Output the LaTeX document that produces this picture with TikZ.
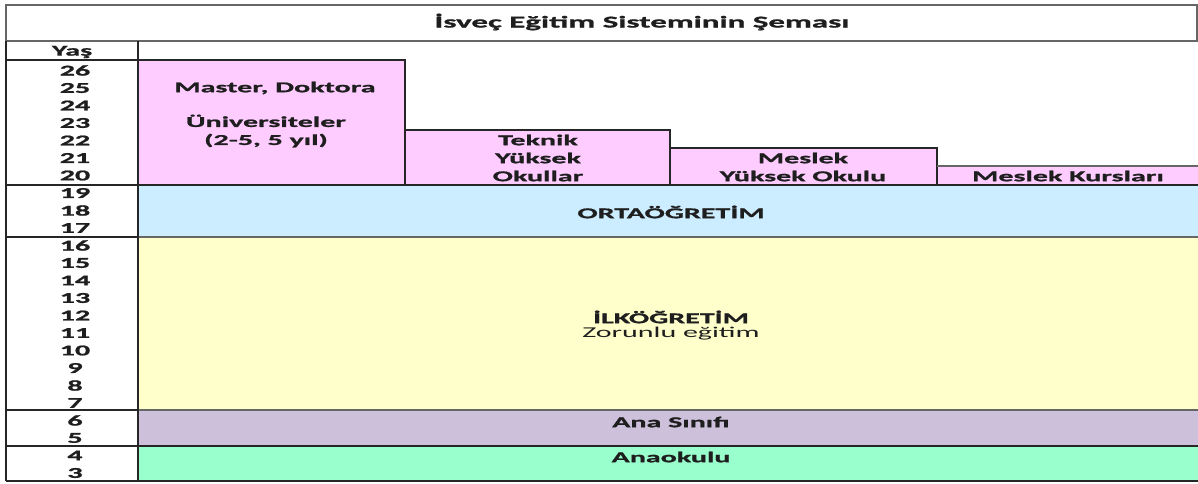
\documentclass[tikz,border=0pt]{standalone}
\usepackage{fontspec}
\setmainfont[FakeStretch=2, BoldFeatures={FakeBold=1.2}]{Carlito}
\usetikzlibrary{positioning}
\definecolor{unipink}{RGB}{255,204,255}
\definecolor{ortablue}{RGB}{204,236,255}
\definecolor{ilkyellow}{RGB}{255,255,204}
\definecolor{anapurple}{RGB}{204,192,218}
\definecolor{kindergreen}{RGB}{153,255,204}
\definecolor{inkgray}{RGB}{30,30,30}

\begin{document}
\begin{tikzpicture}[x=1pt, y=-1pt,
    label/.style={font=\fontsize{15}{18}\selectfont\bfseries, text=inkgray, align=center, inner sep=0pt},
    plain/.style={font=\fontsize{15}{18}\selectfont, text=inkgray, inner sep=0pt},
    agenum/.style={font=\fontsize{15}{16}\selectfont\bfseries, text=inkgray, inner sep=0pt},
    frame/.style={draw=black!85, line width=2pt},
    split/.style={draw=black!60, line width=1.4pt}]
    \useasboundingbox (0,0) rectangle (1198,484);

    % Title
    \fill[white] (0,0) rectangle (1198,484);
    \draw[split] (6,5) rectangle (1197,41);
    \node[label, font=\fontsize{16.5}{18}\selectfont\bfseries] (title) at (642,22) {İsveç Eğitim Sisteminin Şeması};

    % Colour bands
    \fill[unipink] (138,60) rectangle (405,185);
    \fill[unipink] (405,130) rectangle (670,185);
    \fill[unipink] (670,148) rectangle (937,185);
    \fill[unipink] (937,166) rectangle (1198,185);
    \fill[ortablue] (138,185) rectangle (1198,237);
    \fill[ilkyellow] (138,237) rectangle (1198,410);
    \fill[anapurple] (138,410) rectangle (1198,446);
    \fill[kindergreen] (138,446) rectangle (1198,480);

    % Higher education boxes
    \draw[frame] (138,185) -- (138,60) -- (405,60) -- (405,185);
    \draw[frame] (405,130) -- (670,130) -- (670,185);
    \draw[frame] (670,148) -- (937,148) -- (937,185);
    \draw[split] (937,166) -- (1198,166);

    % Grid lines
    \draw[split] (138,237) -- (1198,237);
    \draw[split] (138,410) -- (1198,410);
    \draw[frame] (6,185) -- (1198,185);
    \draw[frame] (6,446) -- (1198,446);
    \draw[frame] (6,481) -- (1198,481);
    \draw[frame] (6,60) -- (138,60);
    \draw[frame] (6,237) -- (138,237);
    \draw[frame] (6,410) -- (138,410);
    \draw[frame] (6,41) -- (6,481);
    \draw[frame, line width=2.6pt] (138,41) -- (138,481);

    % Age column
    \node[agenum] (yas) at (72,52) {Yaş};
    \foreach \a in {3,...,26}
        \node[agenum] (age\a) at (75,{70.5+(26-\a)*17.5}) {\a};

    % Labels
    \node[label] (master) at (275,88) {Master, Doktora};
    \node[label] (univ) at (266,131) {Üniversiteler\\(2-5, 5 yıl)};
    \node[label] (teknik) at (538,158) {Teknik\\Yüksek\\Okullar};
    \node[label] (meslek) at (803,167) {Meslek\\Yüksek Okulu};
    \node[label] (kurs) at (1068,176) {Meslek Kursları};
    \node[label] (orta) at (671,212) {ORTAÖĞRETİM};
    \node[label] (ilk) at (671,317) {İLKÖĞRETİM};
    \node[plain] (zorunlu) at (671,334) {Zorunlu eğitim};
    \node[label] (anasinif) at (671,422) {Ana Sınıfı};
    \node[label] (anaokul) at (671,457) {Anaokulu};
\end{tikzpicture}
\end{document}
